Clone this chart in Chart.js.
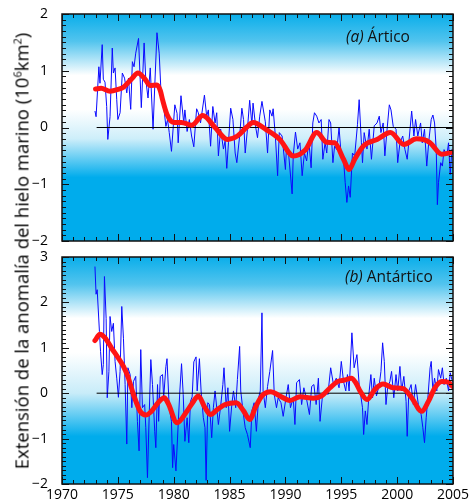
<!DOCTYPE html>
<html>
<head>
<meta charset="utf-8">
<script src="https://cdn.jsdelivr.net/npm/chart.js@4.4.1/dist/chart.umd.min.js"></script>
<style>
  body { margin: 0; background: #fff; width: 470px; height: 501px; position: relative; overflow: hidden; font-family: "Open Sans", sans-serif; }
  canvas { position: absolute; left: 0; }
  #arctic { top: 0; }
  #antarctic { top: 250px; }
  .ytitle { position: absolute; left: 21px; top: 251px; transform: translate(-50%, -50%) rotate(-90deg); white-space: nowrap; font-size: 18.5px; color: #000; }
  .ytitle sup { font-size: 11px; vertical-align: 7px; }
</style>
</head>
<body>
<canvas id="arctic" width="470" height="250"></canvas>
<canvas id="antarctic" width="470" height="251"></canvas>
<div class="ytitle">Extensión de la anomalía del hielo marino (10<sup>6</sup>km<sup>2</sup>)</div>
<script>
// (a) Ártico: anomalías mensuales
const arcticT = [1972.95,1973.05,1973.3,1973.4,1973.6,1973.7,1973.85,1974.0,1974.1,1974.3,1974.5,1974.6,1974.75,1974.9,1975.0,1975.2,1975.4,1975.6,1975.8,1975.95,
  1976.15,1976.3,1976.45,1976.6,1976.85,1977.0,1977.1,1977.35,1977.5,1977.7,1977.9,1978.15,1978.3,1978.5,1978.7,1978.85,1979.1,1979.3,1979.45,1979.6,
  1979.8,1980.1,1980.3,1980.4,1980.65,1980.9,1981.0,1981.2,1981.4,1981.6,1981.8,1982.05,1982.2,1982.4,1982.75,1982.95,1983.1,1983.3,1983.5,1983.7,
  1983.85,1984.0,1984.2,1984.45,1984.6,1984.75,1984.9,1985.1,1985.3,1985.5,1985.65,1985.9,1986.1,1986.25,1986.4,1986.6,1986.8,1987.0,1987.1,1987.35,
  1987.5,1987.7,1987.9,1988.2,1988.4,1988.6,1988.8,1988.9,1989.1,1989.3,1989.45,1989.7,1990.0,1990.1,1990.3,1990.6,1990.7,1990.9,1991.1,1991.3,
  1991.5,1991.7,1991.9,1992.1,1992.3,1992.45,1992.6,1992.8,1993.0,1993.2,1993.35,1993.55,1993.7,1993.9,1994.05,1994.25,1994.4,1994.6,1994.8,1994.95,
  1995.2,1995.35,1995.5,1995.65,1995.8,1996.0,1996.2,1996.45,1996.6,1996.8,1996.9,1997.05,1997.3,1997.5,1997.7,1997.95,1998.2,1998.4,1998.55,1998.75,
  1998.9,1999.1,1999.3,1999.45,1999.65,1999.9,2000.05,2000.25,2000.5,2000.7,2000.9,2001.1,2001.3,2001.5,2001.65,2001.85,2002.1,2002.25,2002.45,2002.65,
  2002.85,2003.05,2003.2,2003.35,2003.5,2003.6,2003.7,2003.9,2004.05,2004.2,2004.45,2004.6,2004.75,2004.9,2005.0];
const arcticAnom = [0.29,0.19,1.07,0.78,1.46,0.85,0.80,0.37,-0.21,0.19,1.40,0.96,1.05,0.49,0.14,0.26,0.96,0.87,0.61,0.87,
  0.32,1.16,1.07,1.31,1.57,0.84,0.35,1.49,0.84,0.52,1.05,-0.03,0.72,1.67,1.31,0.67,0.37,0.02,0.14,-0.09,
  -0.42,0.40,0.25,-0.27,0.56,0.08,0.31,-0.07,0.14,-0.15,-0.34,0.33,0.26,0.08,0.57,0.20,0.31,-0.33,0.37,0.08,
  0.26,-0.50,-0.03,-0.38,-0.24,-0.72,-0.27,0.34,0.14,-0.45,-0.62,-0.15,0.34,0.14,-0.45,-0.03,0.48,0.05,0.43,-0.01,
  -0.18,0.20,0.46,0.10,-0.45,0.31,0.20,0.33,-0.15,-0.85,-0.09,-0.15,-0.74,-0.33,-0.50,-1.17,-0.50,-0.08,-0.38,-0.27,
  -0.85,-0.45,-0.59,-0.24,-0.71,0.08,0.26,0.20,0.08,0.14,-0.56,-0.27,-0.45,0.14,0.08,-0.62,-0.33,-0.39,0.00,-0.39,
  -0.56,-0.97,-1.32,-1.03,-1.23,-0.45,-0.50,0.05,0.49,-0.27,-0.62,-0.09,-0.38,-0.03,-0.56,0.03,0.08,0.20,-0.09,0.08,
  -0.50,-0.03,0.40,0.31,0.02,-0.03,-0.62,-0.27,-0.15,-0.39,-0.56,-0.15,0.29,-0.15,0.14,-0.15,0.08,-0.27,-0.03,-0.68,
  -0.21,0.14,0.22,0.08,-0.39,-1.36,-0.97,-0.62,-0.68,-0.39,-0.50,-0.27,-0.83,-0.39,-0.45];
// (a) Ártico: curva suavizada
const arcticSmoothT = [1973.0,1973.5,1974.3,1975.0,1975.5,1976.2,1976.8,1977.4,1977.9,1978.5,1978.8,1979.0,1979.4,1980.0,1980.7,1981.6,1982.6,1983.7,1984.8,1985.7,
  1986.5,1987.1,1988.3,1989.5,1990.7,1991.8,1992.8,1993.7,1994.4,1995.2,1995.7,1996.2,1997.0,1998.2,1999.4,2000.6,2001.75,2002.9,2004.0,2005.0];
const arcticSmooth = [0.68,0.69,0.64,0.67,0.71,0.85,0.96,0.86,0.74,0.75,0.65,0.49,0.23,0.09,0.09,0.04,0.21,0.00,-0.21,-0.15,
  0.00,0.09,-0.04,-0.21,-0.50,-0.39,-0.09,-0.26,-0.27,-0.56,-0.74,-0.56,-0.32,-0.21,-0.09,-0.30,-0.20,-0.26,-0.47,-0.43];

// (b) Antártico: anomalías mensuales
const antarcticT = [1972.95,1973.05,1973.15,1973.35,1973.45,1973.6,1973.7,1973.8,1973.95,1974.05,1974.2,1974.3,1974.45,1974.6,1974.75,1974.9,1975.05,1975.2,1975.35,1975.5,
  1975.65,1975.8,1975.9,1976.1,1976.25,1976.4,1976.6,1976.75,1976.9,1977.05,1977.2,1977.4,1977.5,1977.65,1977.8,1977.95,1978.1,1978.3,1978.4,1978.55,
  1978.65,1978.8,1979.0,1979.1,1979.3,1979.4,1979.6,1979.8,1979.9,1980.0,1980.2,1980.4,1980.55,1980.7,1980.85,1981.0,1981.2,1981.35,1981.5,1981.65,
  1981.8,1982.0,1982.1,1982.3,1982.45,1982.65,1982.8,1982.9,1983.05,1983.2,1983.4,1983.55,1983.7,1983.85,1984.0,1984.2,1984.4,1984.5,1984.7,1984.85,
  1985.0,1985.2,1985.35,1985.55,1985.7,1985.9,1986.0,1986.2,1986.4,1986.6,1986.85,1987.0,1987.2,1987.4,1987.6,1987.75,1987.9,1988.0,1988.2,1988.4,
  1988.6,1988.85,1989.0,1989.2,1989.35,1989.6,1989.8,1990.05,1990.25,1990.45,1990.7,1990.85,1991.0,1991.25,1991.45,1991.65,1991.9,1992.15,1992.35,1992.55,
  1992.75,1992.95,1993.1,1993.3,1993.55,1993.8,1994.05,1994.3,1994.55,1994.8,1995.0,1995.2,1995.4,1995.55,1995.7,1995.95,1996.15,1996.4,1996.6,1996.9,
  1997.0,1997.15,1997.3,1997.5,1997.65,1997.8,1997.95,1998.15,1998.4,1998.55,1998.7,1998.85,1999.0,1999.15,1999.35,1999.5,1999.7,1999.9,2000.05,2000.25,
  2000.4,2000.6,2000.8,2000.9,2001.05,2001.25,2001.45,2001.65,2001.9,2002.15,2002.3,2002.45,2002.6,2002.75,2002.95,2003.05,2003.2,2003.35,2003.55,2003.7,
  2003.9,2004.05,2004.2,2004.4,2004.6,2004.75,2004.9,2005.0];
const antarcticAnom = [2.79,2.18,2.28,1.36,0.92,0.41,0.63,2.57,1.65,-0.10,0.48,1.69,1.36,1.54,0.70,0.33,-0.09,0.48,1.91,1.21,
  0.19,-1.12,0.56,0.41,-0.32,0.26,0.37,-0.62,-1.27,0.96,-0.32,-0.25,-0.76,-1.86,-0.54,0.74,0.19,-0.84,-1.20,0.19,
  -0.62,0.37,0.41,-0.10,0.59,0.76,-0.32,-0.62,-1.64,-1.13,-1.71,-0.69,0.05,0.65,-0.03,-1.06,-0.54,-1.09,-0.18,-0.08,
  0.69,0.80,0.05,0.76,0.05,-0.54,-0.76,-1.92,-0.21,-0.25,-0.98,-0.32,0.05,-0.32,-0.69,-0.29,0.19,0.56,-0.32,0.12,
  -0.84,-0.25,0.05,-0.32,0.30,1.03,0.05,-0.39,-0.76,-0.91,-1.20,-0.39,-0.21,-0.84,-0.10,0.05,1.77,0.05,-0.32,0.15,
  0.48,0.94,-0.03,-0.32,-0.10,-0.21,-0.51,-0.10,0.19,-0.32,-0.10,-0.69,0.23,0.30,-0.25,0.12,-0.14,-0.47,0.15,0.19,
  -0.25,0.33,-0.62,-0.10,0.05,-0.03,0.56,0.19,0.33,0.12,0.70,0.26,0.05,0.41,0.05,1.33,0.56,0.85,0.19,-0.32,
  -0.91,-0.39,-0.69,0.05,0.41,-0.10,0.33,-0.06,0.19,0.48,1.11,0.70,-0.25,0.12,0.26,0.48,-0.10,0.41,0.05,0.59,
  0.05,0.37,-0.18,-0.95,0.05,0.19,-0.25,0.19,-0.25,-0.47,-0.76,-1.09,-0.54,-0.10,0.56,0.70,0.05,0.33,0.05,0.52,
  0.33,0.56,0.19,0.33,0.05,0.45,0.30,0.25];
// (b) Antártico: curva suavizada
const antarcticSmoothT = [1972.95,1973.4,1973.85,1974.45,1975.05,1975.5,1975.95,1976.4,1977.0,1977.5,1978.0,1978.6,1979.15,1979.5,1980.3,1981.2,1981.8,1982.2,1982.8,1983.3,
  1983.9,1984.6,1985.6,1986.25,1986.8,1987.3,1987.9,1988.7,1989.5,1990.4,1991.3,1992.5,1993.25,1994.0,1994.7,1995.3,1995.9,1996.3,1996.7,1997.3,
  1998.0,1998.75,1999.65,2000.55,2001.3,2002.2,2002.8,2003.4,2004.0,2004.6,2004.95];
const antarcticSmooth = [1.16,1.30,1.22,0.99,0.77,0.59,0.33,-0.03,-0.40,-0.48,-0.40,-0.21,-0.10,-0.22,-0.65,-0.39,-0.17,-0.06,-0.32,-0.47,
  -0.36,-0.25,-0.21,-0.39,-0.58,-0.32,-0.06,0.03,-0.06,-0.16,-0.08,-0.11,-0.06,0.12,0.26,0.29,0.33,0.23,0.04,-0.14,
  0.08,0.20,0.12,0.10,-0.10,-0.40,-0.18,0.13,0.26,0.24,0.15];

const zeroStart = 1973.1, zeroEnd = 2005;

const pts = (t, v) => t.map((x, i) => ({ x: x, y: v[i] }));
const minus = v => v < 0 ? '\u2212' + Math.abs(v) : String(v);

// fondo degradado, marco y marcas hacia dentro
const framePlugin = {
  id: 'frame',
  beforeDatasetsDraw(chart, args, opts) {
    const { ctx, chartArea: a } = chart;
    const g = ctx.createLinearGradient(0, a.top, 0, a.bottom);
    opts.stops.forEach(s => g.addColorStop(s[0], s[1]));
    ctx.save();
    ctx.fillStyle = g;
    ctx.fillRect(a.left, a.top, a.right - a.left, a.bottom - a.top);
    ctx.restore();
  },
  afterDraw(chart, args, opts) {
    const { ctx, chartArea: a } = chart;
    const xs = chart.scales.x, ys = chart.scales.y;
    ctx.save();
    ctx.strokeStyle = '#111';
    ctx.lineWidth = 1;
    ctx.beginPath();
    for (let yr = 1970; yr <= 2005; yr++) {
      const px = Math.round(xs.getPixelForValue(yr)) + 0.5;
      const len = yr % 5 === 0 ? 7 : 4;
      ctx.moveTo(px, a.top); ctx.lineTo(px, a.top + len);
      ctx.moveTo(px, a.bottom); ctx.lineTo(px, a.bottom - len);
    }
    for (let i = Math.round(ys.min * 10); i <= Math.round(ys.max * 10); i++) {
      const py = Math.round(ys.getPixelForValue(i / 10)) + 0.5;
      const len = i % 10 === 0 ? 7 : 4;
      ctx.moveTo(a.left, py); ctx.lineTo(a.left + len, py);
      ctx.moveTo(a.right, py); ctx.lineTo(a.right - len, py);
    }
    ctx.stroke();
    ctx.lineWidth = 1.5;
    ctx.strokeRect(a.left, a.top, a.right - a.left, a.bottom - a.top);
    // etiqueta del panel
    ctx.fillStyle = '#111';
    ctx.textBaseline = 'alphabetic';
    ctx.font = 'italic 15.5px "Open Sans"';
    ctx.fillText(opts.tag, opts.lx, opts.ly);
    const w = ctx.measureText(opts.tag + ' ').width;
    ctx.font = '15.5px "Open Sans"';
    ctx.fillText(opts.name, opts.lx + w, opts.ly);
    ctx.restore();
  }
};

function makeChart(id, t, v, st, sv, yMin, yMax, showX, pad, stops, tag, name, lx, ly) {
  const xScale = {
    type: 'linear', min: 1970, max: 2005,
    display: showX,
    grid: { display: false, drawTicks: false },
    border: { display: false },
    ticks: { stepSize: 5, padding: 3, color: '#000', font: { family: 'Open Sans', size: 14 },
      callback: val => String(val), maxRotation: 0 },
    afterFit: s => {
      if (showX) s.height = 17;
      s.paddingLeft = 0; s.paddingRight = 0;
    }
  };
  return new Chart(document.getElementById(id), {
    type: 'line',
    data: {
      datasets: [
        { data: pts(st, sv), borderColor: '#ff1414', borderWidth: 5, pointRadius: 0,
          cubicInterpolationMode: 'monotone', borderCapStyle: 'round', borderJoinStyle: 'round', order: 1 },
        { data: [{ x: zeroStart, y: 0 }, { x: zeroEnd, y: 0 }], borderColor: '#000', borderWidth: 1,
          pointRadius: 0, order: 2 },
        { data: pts(t, v), borderColor: '#0a0aff', borderWidth: 1, pointRadius: 0, tension: 0, order: 3 }
      ]
    },
    options: {
      responsive: false,
      maintainAspectRatio: false,
      animation: false,
      events: [],
      layout: { autoPadding: false, padding: pad },
      plugins: {
        legend: { display: false },
        tooltip: { enabled: false },
        frame: { stops: stops, tag: tag, name: name, lx: lx, ly: ly }
      },
      scales: {
        x: xScale,
        y: {
          type: 'linear', min: yMin, max: yMax,
          grid: { display: false, drawTicks: false },
          border: { display: false },
          ticks: { stepSize: 1, padding: 14, color: '#000', font: { family: 'Open Sans', size: 14 },
            callback: val => minus(val) },
          afterFit: s => { s.width = 62; s.paddingTop = 0; s.paddingBottom = 0; }
        }
      }
    },
    plugins: [framePlugin]
  });
}

const topStops = [[0, '#0aaeea'], [0.12, '#52c4ee'], [0.27, '#ffffff'], [0.42, '#ffffff'], [0.55, '#cdeefa'], [0.72, '#00acec'], [1, '#00acec']];
const botStops = [[0, '#0aaeea'], [0.12, '#52c4ee'], [0.27, '#ffffff'], [0.42, '#ffffff'], [0.6, '#c8ecf9'], [0.79, '#00acec'], [1, '#00acec']];

makeChart('arctic', arcticT, arcticAnom, arcticSmoothT, arcticSmooth, -2, 2, false,
  { top: 14, bottom: 9, left: 0, right: 17 }, topStops, '(a)', 'Ártico', 346, 42);
makeChart('antarctic', antarcticT, antarcticAnom, antarcticSmoothT, antarcticSmooth, -2, 3, true,
  { top: 7, bottom: 0, left: 0, right: 17 }, botStops, '(b)', 'Antártico', 345, 32);
</script>
</body>
</html>
